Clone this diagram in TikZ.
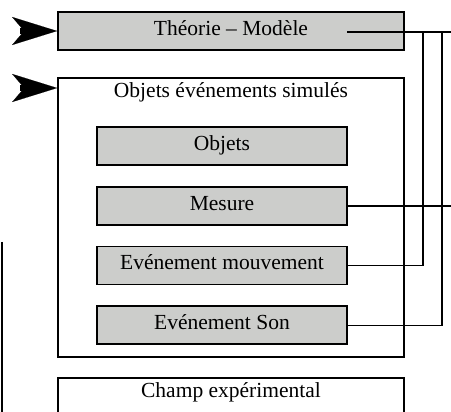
\documentclass[tikz,border=0pt]{standalone}
\usepackage{fontspec}
\setmainfont{Liberation Serif}
\definecolor{boxgray}{RGB}{204,205,203}
\usetikzlibrary{arrows.meta,positioning}

\begin{document}
\begin{tikzpicture}[x=1pt,y=-1pt,node distance=20pt,font=\fontsize{21.5}{25}\selectfont]
  \tikzstyle{frame}=[rectangle,draw,line width=1.6pt,minimum width=346pt,inner sep=0pt]
  \tikzstyle{grayblock}=[rectangle,draw,line width=1.8pt,fill=boxgray,minimum width=250pt,minimum height=38pt,text height=15pt,text depth=6.5pt,inner sep=0pt]
  \tikzstyle{title}=[inner sep=5.5pt,text height=15pt,text depth=6.5pt,anchor=north]
  \tikzstyle{link}=[line width=1.5pt]
  \tikzstyle{entry}=[line width=6pt,-{Stealth[length=45pt,width=28pt,inset=12pt,line width=0.1pt]}]
  \useasboundingbox (0,0) rectangle (451,412);
  \clip (0,0) rectangle (451,412);
  % boxes
  \node[grayblock,minimum width=346pt] (theorie) at (231,31) {Théorie – Modèle};
  \node[frame,minimum height=279pt] (simul) at (231,217.5) {};
  \node[title] (simultitle) at (simul.north) {Objets événements simulés};
  \node[grayblock] (objets) at (222,146) {Objets};
  \node[grayblock,below=of objets] (mesure) {Mesure};
  \node[grayblock,below=of mesure] (mouv) {Evénement mouvement};
  \node[grayblock,below=of mouv] (son) {Evénement Son};
  \node[frame,minimum height=80pt,anchor=north] (champ) at (231,377) {};
  \node[title] (champtitle) at (champ.north) {Champ expérimental};
  % entries
  \coordinate (inT) at (20,31);
  \coordinate (inS) at (20,88);
  \draw[entry] (inT) -- (theorie.west);
  \draw[entry] (inS) -- (inS -| simul.west);
  % right side links
  \coordinate (theoriestart) at (347,32);
  \coordinate (theorieout) at (460,32);
  \coordinate (busA) at (423,32);
  \coordinate (busB) at (442,32);
  \draw[link] (theoriestart) -- (theorieout);
  \draw[link] (mouv.east) -| (busA);
  \draw[link] (son.east) -| (busB);
  \draw[link] (mesure.east) -- (mesure.east -| theorieout);
  % left line
  \coordinate (leftA) at (1.5,242);
  \coordinate (leftB) at (1.5,420);
  \draw[line width=2pt] (leftA) -- (leftB);
\end{tikzpicture}
\end{document}
